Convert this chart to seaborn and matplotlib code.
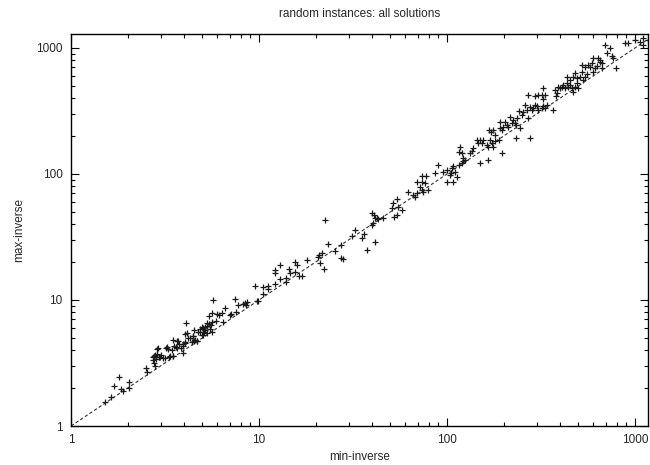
import numpy as np
import pandas as pd
import matplotlib
matplotlib.use("Agg")
import matplotlib.pyplot as plt
import matplotlib.ticker as mticker
import seaborn as sns

title = "random instances: all solutions"
x_label = "min-inverse"
y_label = "max-inverse"
tick_values = [1, 10, 100, 1000]
tick_labels = ["1", "10", "100", "1000"]
diag = [1, 1300]

min_inverse = [
    1.52, 1.63, 1.69, 1.81, 1.85, 1.89, 2.03, 2.04, 2.5, 2.55,
    2.76, 2.86, 2.89, 2.94, 3.01, 3.07, 3.2, 3.29, 3.33, 2.74,
    2.72, 2.80, 2.87, 2.82, 2.97, 2.76, 2.79, 2.93, 3.23, 3.18, 3.38, 3.47, 3.53, 3.72, 3.68,
    3.86, 4.02, 4.09, 4.06, 3.96, 4.13, 4.30, 4.44, 4.51, 4.57, 4.66, 4.76, 4.86, 5.01, 4.97,
    5.08, 5.18, 5.27, 5.40, 5.53, 5.49, 5.60, 5.40, 5.60, 5.71, 5.91, 5.96, 6.10, 6.36, 6.41,
    6.59, 7.01, 7.12, 7.45, 7.54, 7.73, 8.19, 8.39, 8.53, 8.60, 9.49, 9.88,
    4.96, 5.05, 5.16, 5.27, 4.86, 5.60, 5.05, 5.31, 3.50, 3.68, 3.77, 3.62, 3.93, 4.04, 4.21,
    4.39, 4.51, 4.66, 4.48, 3.43, 3.47, 3.96,
    9.80, 10.5, 10.5, 11.2, 11.2, 12.2, 12.1, 12.2, 12.9, 13.0, 13.9, 14.0, 14.5, 14.6, 15.5,
    15.5, 15.9, 16.3, 16.9, 17.9, 20.9, 20.7, 21.5, 21.1, 22.2, 22.5, 23.4, 25.4, 27.2, 27.2,
    28.1, 31.1, 32.4, 35.2, 36.2, 37.4, 39.7, 40.3, 39.7, 40.9, 41.4, 41.2, 42.3, 43.1, 45.5,
    51.2, 51.8, 52.2, 54.4, 54.4, 55.1, 57.4, 62.3, 66.2, 67.6, 69.0, 73.3, 77.0, 69.0, 73.3,
    76.4, 71.8, 73.3, 74.8, 79.6,
    86.3, 89.9, 94.8, 99.6, 99.6, 108, 104, 106, 108, 113, 105, 110, 116, 120, 121, 125, 122,
    117, 120, 116, 133, 135, 138, 144, 150, 147, 156, 153, 150, 166, 163, 166, 169, 173, 176,
    180, 188, 195, 168, 171, 175, 180, 191, 195, 191, 203, 199, 208, 212, 216, 221, 225, 230,
    233, 235, 245, 232, 276, 240, 250, 255, 260, 265, 271, 276, 282, 288, 294, 300, 306, 319,
    325, 332, 339, 368, 268, 294, 306, 319, 332, 325, 323, 375, 383, 380, 391, 399, 407, 416,
    424, 433, 442, 451, 460, 470, 480, 489, 500, 433, 451, 470, 480, 489, 510, 520, 531, 542,
    553, 520, 542, 565, 576, 588, 600, 613, 625, 651, 665, 665, 600, 638, 651, 692, 736, 707,
    751, 767, 793, 885, 922, 1000, 1063, 1099, 1107, 1170,
]
max_inverse = [
    1.56, 1.71, 2.09, 2.46, 1.97, 1.91, 2.24, 2.01, 2.9, 2.7,
    3.61, 3.71, 4.14, 3.51, 3.68, 3.48, 4.14, 4.06, 3.51, 3.34,
    3.55, 3.66, 4.08, 3.38, 3.51, 3.14, 2.99, 3.55, 4.21, 3.48, 3.61, 3.59, 4.31, 4.75, 4.14,
    4.14, 4.64, 6.61, 5.34, 4.45, 5.47, 5.02, 5.18, 5.78, 4.79, 4.73, 5.57, 5.92, 5.92, 5.31,
    5.54, 6.14, 6.53, 6.45, 6.34, 5.92, 6.69, 7.46, 7.84, 10.0, 6.78, 7.78, 7.65, 7.84, 6.65,
    8.59, 7.56, 7.70, 10.1, 7.98, 9.08, 9.30, 9.41, 9.13, 9.59, 12.9, 9.88,
    6.14, 5.96, 5.78, 6.22, 5.60, 5.60, 5.27, 5.44, 4.81, 4.75, 4.47, 4.21, 4.31, 4.53, 4.97,
    4.67, 4.73, 4.75, 5.18, 4.01, 3.59, 3.82,
    9.82, 12.6, 11.1, 13.0, 12.2, 13.4, 17.3, 16.3, 14.6, 19.0, 15.0, 14.0, 17.5, 16.3, 20.1,
    16.8, 19.0, 15.5, 15.5, 20.8, 22.8, 22.1, 23.7, 19.5, 17.5, 43.1, 27.8, 24.6, 27.3, 21.7,
    21.0, 32.2, 35.9, 30.9, 33.4, 24.9, 39.4, 40.6, 48.8, 47.3, 44.5, 29.0, 44.5, 43.7, 44.5,
    53.4, 58.5, 45.8, 63.0, 47.3, 55.0, 51.8, 71.6, 68.1, 66.1, 70.3, 97.0, 97.0, 86.9, 86.9,
    84.4, 79.3, 74.6, 72.4, 74.6,
    101, 118, 104, 108, 86.9, 86.9, 98.2, 111, 116, 95.3, 101, 104, 118, 122, 127, 129, 133,
    165, 146, 150, 146, 153, 160, 186, 186, 175, 186, 175, 122, 128, 170, 165, 186, 175, 165,
    184, 186, 148, 223, 217, 223, 204, 230, 223, 260, 260, 238, 245, 238, 285, 256, 268, 252,
    245, 277, 230, 194, 192, 316, 294, 312, 353, 322, 277, 342, 322, 332, 353, 347, 322, 332,
    347, 336, 353, 322, 424, 419, 424, 424, 424, 391, 484, 464, 437, 416, 493, 479, 493, 509,
    479, 524, 493, 509, 479, 450, 493, 524, 479, 592, 557, 592, 629, 575, 592, 649, 557, 592,
    618, 733, 711, 733, 711, 755, 649, 690, 720, 779, 755, 690, 838, 838, 803, 1057, 994, 907,
    864, 828, 690, 1089, 1089, 1157, 1123, 1057, 1193, 1157,
]

df = pd.DataFrame({"min": min_inverse, "max": max_inverse})

sns.set_style("ticks")
plt.rcParams["font.family"] = ["Liberation Sans", "DejaVu Sans"]

fig = plt.figure(figsize=(6.5, 4.65), dpi=100)
ax = fig.add_axes([71 / 650, 1 - 426 / 465, (648 - 71) / 650, (426 - 34) / 465])

ax.plot(diag, diag, linestyle=(0, (3, 2)), color="#333333", linewidth=0.8, zorder=1)
sns.scatterplot(data=df, x="min", y="max", marker="+", s=16, color="#1a1a1a",
                linewidth=0.9, ax=ax, zorder=2, legend=False)

ax.set_xscale("log")
ax.set_yscale("log")
ax.set_xlim(1, 1172)
ax.set_ylim(1, 1290)

ax.xaxis.set_major_locator(mticker.FixedLocator(tick_values))
ax.yaxis.set_major_locator(mticker.FixedLocator(tick_values))
ax.set_xticklabels(tick_labels)
ax.set_yticklabels(tick_labels)
ax.xaxis.set_minor_locator(mticker.LogLocator(base=10, subs=np.arange(2, 10)))
ax.yaxis.set_minor_locator(mticker.LogLocator(base=10, subs=np.arange(2, 10)))
ax.xaxis.set_minor_formatter(mticker.NullFormatter())
ax.yaxis.set_minor_formatter(mticker.NullFormatter())

ax.tick_params(which="both", direction="in", top=True, right=True, labelsize=8.5,
               color="black", width=0.8)
ax.tick_params(which="major", length=6, pad=6)
ax.tick_params(which="minor", length=3)
for sp in ax.spines.values():
    sp.set_linewidth(1.0)
    sp.set_color("black")

ax.set_xlabel(x_label, fontsize=8.5, labelpad=3)
ax.set_ylabel(y_label, fontsize=8.5, labelpad=8)
ax.set_title(title, fontsize=8.5, pad=12)

fig.savefig("out.png", dpi=100)
